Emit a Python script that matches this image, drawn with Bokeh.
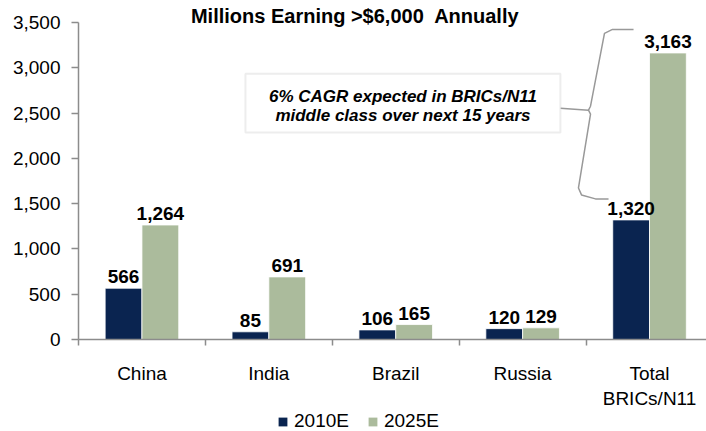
import numpy as np
from bokeh.plotting import figure
from bokeh.layouts import column
from bokeh.models import (ColumnDataSource, FixedTicker, NumeralTickFormatter, Legend,
                          LegendItem, BoxAnnotation, Label)
from bokeh.embed import file_html
from bokeh.resources import INLINE
from bokeh.core.properties import value

# ---- data ----
categories = ["China", "India", "Brazil", "Russia", "Total\nBRICs/N11"]
v2010 = [566, 85, 106, 120, 1320]
v2025 = [1264, 691, 165, 129, 3163]
series = ["2010E", "2025E"]
y_ticks = [0, 500, 1000, 1500, 2000, 2500, 3000, 3500]
title_text = "Millions Earning >$6,000\u00a0 Annually"
note_lines = ["6% CAGR expected in BRICs/N11", "middle class over next 15 years"]

FONT = "Liberation Sans"
C10 = "#0a2450"
C25 = "#abbb9c"
AXC = "#8c8c8c"

n = len(categories)
centers = np.arange(n) + 0.5
bw = 0.29
x10 = centers - bw / 2
x25 = centers + bw / 2

src = ColumnDataSource(dict(
    x10=x10, x25=x25, v10=v2010, v25=v2025,
    t10=[f"{v:,}" for v in v2010], t25=[f"{v:,}" for v in v2025],
))

p = figure(width=706, height=411, x_range=(0, 4.949), y_range=(0, 3742),
           output_backend="svg", toolbar_location=None,
           min_border_left=78, min_border_right=0, min_border_top=0, min_border_bottom=0)
p.outline_line_color = None
p.xgrid.visible = False
p.ygrid.visible = False
p.background_fill_color = "white"

r10 = p.vbar(x="x10", top="v10", width=bw, source=src, fill_color=C10, line_color="white", line_width=0.8)
r25 = p.vbar(x="x25", top="v25", width=bw, source=src, fill_color=C25, line_color="white", line_width=0.8)

for xcol, tcol, ycol in (("x10", "t10", "v10"), ("x25", "t25", "v25")):
    p.text(x=xcol, y=ycol, text=tcol, source=src, text_align="center", text_baseline="bottom",
           y_offset=-5, text_font=value(FONT), text_font_style="bold", text_font_size="19px",
           text_color="black")

# axes
xa = p.xaxis[0]
xa.ticker = FixedTicker(ticks=list(centers), minor_ticks=list(np.arange(n + 1)))
xa.major_label_overrides = {float(c): cat for c, cat in zip(centers, categories)}
xa.axis_line_color = AXC
xa.axis_line_width = 1.5
xa.major_tick_out = 0
xa.major_tick_in = 0
xa.minor_tick_out = 6
xa.minor_tick_in = 0
xa.minor_tick_line_color = AXC
xa.minor_tick_line_width = 1.5
xa.major_label_standoff = 17
xa.major_label_text_font = FONT
xa.major_label_text_font_size = "19px"
xa.major_label_text_color = "black"

ya = p.yaxis[0]
ya.ticker = FixedTicker(ticks=y_ticks, minor_ticks=[])
ya.formatter = NumeralTickFormatter(format="0,0")
ya.bounds = (0, 3500)
ya.axis_line_color = AXC
ya.axis_line_width = 1.5
ya.major_tick_out = 7
ya.major_tick_in = 0
ya.major_tick_line_color = AXC
ya.major_tick_line_width = 1.5
ya.minor_tick_out = 0
ya.minor_tick_in = 0
ya.major_label_standoff = 11
ya.major_label_text_font = FONT
ya.major_label_text_font_size = "19px"
ya.major_label_text_color = "black"

# title
p.add_layout(Label(x=2.18, y=3571, text=title_text, text_align="center", text_baseline="middle",
                   text_font=FONT, text_font_style="bold", text_font_size="20px", text_color="black"))

# annotation box
p.add_layout(BoxAnnotation(left=1.316, right=3.798, bottom=2286, top=2934,
                           fill_color="white", fill_alpha=1.0, line_color="#c4c4c4", line_width=2))
for i, line in enumerate(note_lines):
    p.add_layout(Label(x=2.557, y=2681 - i * 208, text=line, text_align="center", text_baseline="middle",
                       text_font=FONT, text_font_style="bold italic", text_font_size="17px",
                       text_color="black"))

# curly brace linking the Total 2010E and 2025E labels
k = n - 1
yt = v2025[k] + 260
yb = v2010[k] + 232
ym = 2531
bx = [k + 0.374, k + 0.208, k + 0.145, k + 0.035, k + 0.019, k + 0.035, k - 0.06, k - 0.036,
      k + 0.074, k + 0.177]
by = [yt, yt, yt - 44, ym + 44, ym, ym - 44, yb + 121, yb + 44, yb, yb]
p.line(x=bx, y=by, line_color="#999999", line_width=1.5)
p.line(x=[3.798, k + 0.019], y=[ym + 22, ym], line_color="#999999", line_width=1.5)

# legend strip (separate small figure so the legend sits below the axis labels)
pl = figure(width=706, height=20, x_range=(0, 1), y_range=(10000, 10001), output_backend="svg",
            toolbar_location=None, x_axis_location=None, y_axis_location=None,
            min_border_left=0, min_border_right=0, min_border_top=0, min_border_bottom=0)
pl.outline_line_color = None
pl.xgrid.visible = False
pl.ygrid.visible = False
l10 = pl.vbar(x="x10", top="v10", width=bw, source=src, fill_color=C10, line_color=None)
l25 = pl.vbar(x="x25", top="v25", width=bw, source=src, fill_color=C25, line_color=None)
legend = Legend(items=[LegendItem(label=series[0], renderers=[l10]),
                       LegendItem(label=series[1], renderers=[l25])],
                orientation="horizontal", location=(199, -1),
                glyph_width=11, glyph_height=11, label_standoff=6, spacing=18,
                padding=0, margin=0, border_line_color=None, background_fill_alpha=0,
                label_text_font=FONT, label_text_font_size="19px", label_text_color="black")
pl.add_layout(legend)

layout = column(p, pl, spacing=0)
open("out.html", "w").write(file_html(layout, INLINE))
